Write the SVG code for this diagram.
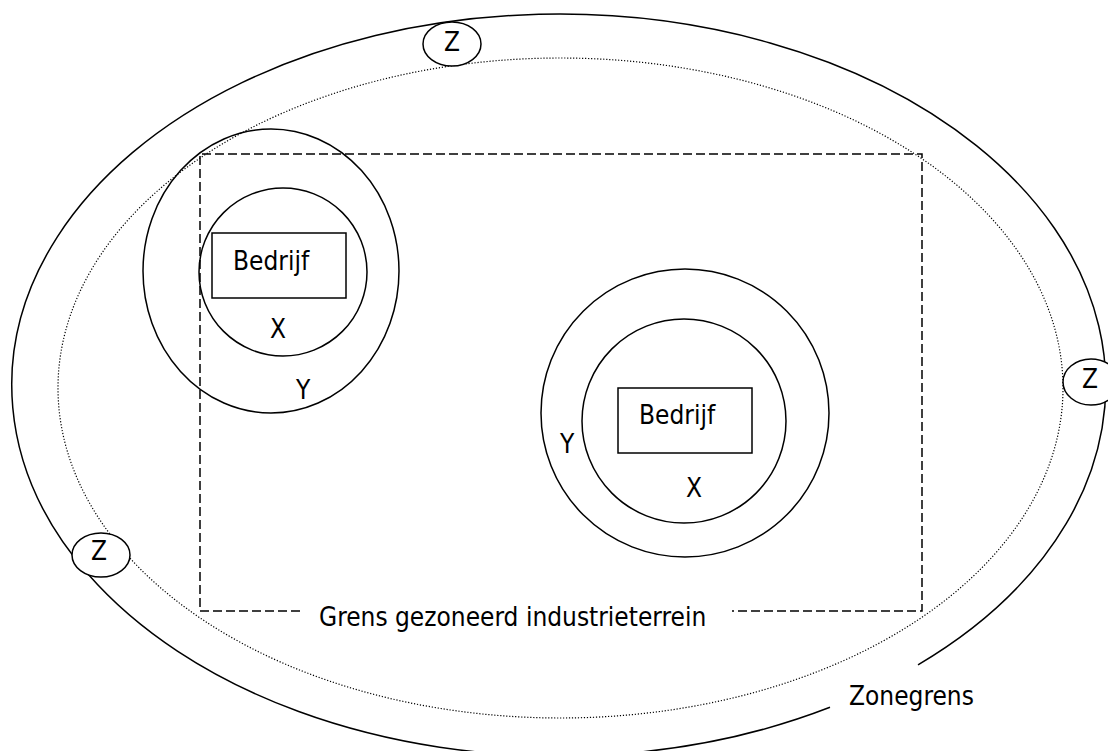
<svg xmlns="http://www.w3.org/2000/svg" width="1108" height="751" viewBox="0 0 1108 751">
<style>
.ln{fill:none;stroke:#000;stroke-width:1.5}
.dot{fill:none;stroke:#000;stroke-width:1.2;stroke-dasharray:1.2 1.8}
.dash{fill:none;stroke:#000;stroke-width:1.5;stroke-dasharray:9 4}
.zc{fill:#fff;stroke:#000;stroke-width:1.5}
.t{font-family:"DejaVu Sans Condensed","Liberation Sans",sans-serif;font-size:26px;fill:#000}
</style>
<rect width="1108" height="751" fill="#fff"/>
<g id="zonegrens">
<path class="ln" d="M 918 664.9 A 547 371 0 1 0 830 707.3"/>
<text class="t" x="849" y="705">Zonegrens</text>
</g>
<g id="inner-zone">
<ellipse class="dot" cx="560.5" cy="388" rx="502.5" ry="330"/>
</g>
<g id="industrieterrein">
<path class="dash" d="M 300 611 H 200 V 154 H 922 V 611 H 732"/>
<text class="t" x="319" y="626">Grens gezoneerd industrieterrein</text>
</g>
<g id="bedrijf-1">
<ellipse class="ln" cx="271" cy="271" rx="128" ry="142"/>
<circle class="ln" cx="283" cy="272" r="84"/>
<rect class="ln" x="212" y="233" width="134" height="65"/>
<text class="t" x="233" y="270">Bedrijf</text>
<text class="t" x="270" y="338">X</text>
<text class="t" x="296" y="399">Y</text>
</g>
<g id="bedrijf-2">
<circle class="ln" cx="685" cy="413" r="144"/>
<circle class="ln" cx="684" cy="421" r="102"/>
<rect class="ln" x="618" y="388" width="134" height="65"/>
<text class="t" x="639" y="424">Bedrijf</text>
<text class="t" x="686" y="497">X</text>
<text class="t" x="560" y="453">Y</text>
</g>
<g id="z-top">
<ellipse class="zc" cx="452" cy="44" rx="29" ry="22"/>
<text class="t" x="452" y="51" text-anchor="middle">Z</text>
</g>
<g id="z-right">
<ellipse class="zc" cx="1091" cy="382" rx="28" ry="23"/>
<text class="t" x="1090" y="388" text-anchor="middle">Z</text>
</g>
<g id="z-left">
<ellipse class="zc" cx="101" cy="555" rx="29" ry="22"/>
<text class="t" x="99" y="560" text-anchor="middle">Z</text>
</g>
<g id="connectors"></g>
</svg>
